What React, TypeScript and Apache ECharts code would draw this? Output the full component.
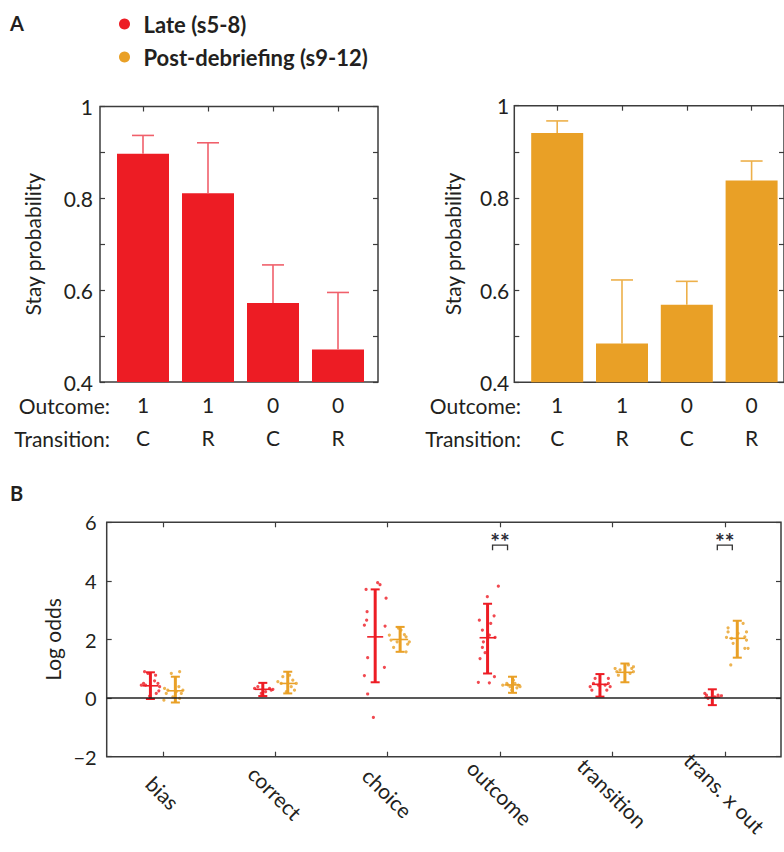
import React, { useEffect, useRef } from 'react';
import * as echarts from 'echarts';

// ---------- Panel A data ----------
const outcomes = ['1', '1', '0', '0'];
const transitions = ['C', 'R', 'C', 'R'];
const rowLabels = ['Outcome:', 'Transition:'];
const lateStay = [0.897, 0.811, 0.572, 0.471];
const lateStayUpper = [0.937, 0.921, 0.655, 0.595];
const postStay = [0.941, 0.484, 0.568, 0.838];
const postStayUpper = [0.967, 0.622, 0.619, 0.88];
const stayTickLabels = [0.4, 0.6, 0.8, 1];

// ---------- Panel B data ----------
const regressors = ['bias', 'correct', 'choice', 'outcome', 'transition', 'trans. x out'];
const lateMean = [0.42, 0.3, 2.09, 2.06, 0.47, 0.03];
const lateLow = [-0.03, 0.07, 0.54, 0.84, 0.05, -0.24];
const lateHigh = [0.88, 0.52, 3.71, 3.22, 0.82, 0.3];
const postMean = [0.25, 0.5, 2.0, 0.45, 0.88, 2.04];
const postLow = [-0.15, 0.16, 1.58, 0.18, 0.54, 1.38];
const postHigh = [0.73, 0.9, 2.43, 0.73, 1.18, 2.64];
const sigRegressors = ['outcome', 'trans. x out'];
const sigLabel = '**';

// individual subjects: [x (category index + jitter), log odds]
const latePoints = [
  [-0.163, 0.9], [-0.133, 0.84], [-0.065, 0.78], [-0.192, 0.44], [-0.154, 0.44], [-0.074, 0.59],
  [-0.044, 0.5], [-0.029, 0.39], [-0.036, 0.25], [-0.059, 0.16], [-0.118, 0.07], [-0.172, 0.5],
  [0.816, 0.33], [0.845, 0.39], [0.949, 0.33], [0.964, 0.27], [0.979, 0.3], [0.914, 0.22], [0.875, 0.16],
  [1.911, 3.94], [1.932, 3.87], [1.808, 3.71], [1.986, 3.41], [1.817, 2.95], [1.813, 2.66], [1.793, 2.49],
  [1.977, 2.46], [1.822, 1.38], [1.971, 1.05], [1.793, 0.77], [1.822, 0.14], [1.873, -0.66],
  [2.985, 3.82], [2.887, 3.46], [2.816, 2.66], [2.947, 2.81], [2.917, 2.55], [2.843, 2.32], [2.905, 2.15],
  [2.956, 2.07], [2.852, 1.92], [2.843, 1.73], [2.867, 1.55], [2.822, 1.35], [2.95, 0.73], [2.807, 0.54], [2.905, 0.52],
  [3.802, 0.39], [3.831, 0.5], [3.817, 0.27], [3.875, 0.44], [3.935, 0.44], [3.964, 0.5], [3.98, 0.39],
  [3.95, 0.27], [3.846, 0.67], [3.964, 0.67],
  [4.837, 0.1], [4.94, 0.1], [4.97, 0.08], [4.851, -0.01], [4.911, 0.04], [4.822, 0.16],
];
const postPoints = [
  [0.075, 0.84], [0.149, 0.9], [0.015, 0.33], [0.044, 0.27], [0.142, 0.39], [0.178, 0.27], [0.164, 0.16],
  [0.119, 0.22], [0.089, 0.04], [0.149, -0.01], [0.03, 0.16], [0.009, -0.07],
  [1.023, 0.56], [1.053, 0.5], [1.156, 0.61], [1.187, 0.5], [1.171, 0.27], [1.067, 0.73], [1.142, 0.39],
  [1.127, 0.78], [1.098, 0.22],
  [2.015, 2.15], [2.03, 1.98], [2.149, 2.17], [2.164, 2.09], [2.193, 1.92], [2.178, 1.84], [2.053, 1.73],
  [2.164, 1.58], [2.084, 1.92], [2.119, 2.32], [2.095, 2.39],
  [3.024, 0.44], [3.06, 0.5], [3.163, 0.44], [3.178, 0.39], [3.089, 0.39], [3.133, 0.5], [3.119, 0.61],
  [3.104, 0.27], [3.07, 0.45], [3.15, 0.35],
  [4.024, 1.01], [4.039, 0.9], [4.068, 0.96], [4.172, 1.01], [4.187, 0.9], [4.157, 0.84], [4.187, 1.07],
  [4.053, 0.78], [4.142, 1.13],
  [5.029, 2.4], [5.163, 2.55], [5.029, 2.26], [5.118, 2.21], [5.193, 2.26], [5.015, 2.07], [5.06, 2.04],
  [5.178, 2.09], [5.193, 1.98], [5.074, 1.87], [5.178, 1.7], [5.207, 1.7], [5.053, 1.13],
];

const LATE_NAME = 'Late (s5-8)';
const POST_NAME = 'Post-debriefing (s9-12)';

const RED = '#ED1C24';
const ORANGE = '#E9A026';
const RED_ERR = '#F0606B';
const ORANGE_ERR = '#EDB04A';
const TEXT = '#231F20';
const FRAME = '#3c3c3c';
const FONT = 'Lato, "Noto Sans", sans-serif';
const GROUP_OFF = 0.111;

function barErrRender(color: string) {
  return (params: any, api: any) => {
    const i = api.value(0);
    const b = api.coord([i, api.value(1)]);
    const t = api.coord([i, api.value(2)]);
    const st = { stroke: color, lineWidth: 1.6 };
    return {
      type: 'group',
      children: [
        { type: 'line', shape: { x1: b[0], y1: b[1], x2: t[0], y2: t[1] }, style: st },
        { type: 'line', shape: { x1: t[0] - 11, y1: t[1], x2: t[0] + 11, y2: t[1] }, style: st },
      ],
    };
  };
}

function dotErrRender(color: string) {
  return (params: any, api: any) => {
    const x = api.value(0);
    const lo = api.coord([x, api.value(1)]);
    const hi = api.coord([x, api.value(2)]);
    const m = api.coord([x, api.value(3)]);
    return {
      type: 'group',
      children: [
        { type: 'line', shape: { x1: lo[0], y1: lo[1], x2: hi[0], y2: hi[1] }, style: { stroke: color, lineWidth: 3 } },
        { type: 'line', shape: { x1: hi[0] - 4.5, y1: hi[1], x2: hi[0] + 4.5, y2: hi[1] }, style: { stroke: color, lineWidth: 2 } },
        { type: 'line', shape: { x1: lo[0] - 4.5, y1: lo[1], x2: lo[0] + 4.5, y2: lo[1] }, style: { stroke: color, lineWidth: 2 } },
        { type: 'line', shape: { x1: m[0] - 8, y1: m[1], x2: m[0] + 8, y2: m[1] }, style: { stroke: color, lineWidth: 1.6 } },
      ],
    };
  };
}

function sigRender(params: any, api: any) {
  const i = api.value(0);
  const base = api.coord([i, api.value(1)]);
  const top = base[1] - 5;
  return {
    type: 'group',
    children: [
      {
        type: 'polyline',
        shape: { points: [[base[0] - 7.5, base[1]], [base[0] - 7.5, top], [base[0] + 7.5, top], [base[0] + 7.5, base[1]]] },
        style: { stroke: '#333', lineWidth: 1.3, fill: 'none' },
      },
      {
        type: 'text',
        x: base[0],
        y: top - 4,
        style: { text: sigLabel, align: 'center', verticalAlign: 'middle', fontSize: 23, fontFamily: FONT, fontWeight: 'bold', fill: '#2a2a35' },
      },
    ],
  };
}

function stayLabel(v: number) {
  const r = Math.round(v * 10) / 10;
  return stayTickLabels.some((t) => Math.abs(t - r) < 1e-6) && Math.abs(v - r) < 1e-6 ? String(r) : '';
}

export default function App() {
  const ref = useRef<HTMLDivElement>(null);
  useEffect(() => {
    document.body.style.margin = '0';
    if (!ref.current) return;
    const chart = echarts.init(ref.current, null, { renderer: 'svg' });
    const catsA = outcomes.map((o, i) => o + '\n' + transitions[i]);

    const boxGrid = (left: number, top: number, height: number) => ({
      left, top, width: 278, height, show: true, borderColor: FRAME, borderWidth: 1.5, backgroundColor: 'transparent',
    });
    const tickStyle = { show: true, inside: true, length: 5, lineStyle: { color: FRAME, width: 1.2 } };
    const noLine = { show: false, onZero: false };

    const aCatAxes = (gridIndex: number) => [
      {
        gridIndex, type: 'category', data: catsA, position: 'bottom',
        axisLine: noLine, axisTick: { ...tickStyle, alignWithLabel: true },
        axisLabel: { fontSize: 21, fontFamily: FONT, color: TEXT, lineHeight: 33, margin: 6 },
      },
      {
        gridIndex, type: 'category', data: catsA, position: 'top',
        axisLine: noLine, axisTick: { ...tickStyle, alignWithLabel: true }, axisLabel: { show: false },
      },
    ];
    const aStayAxes = (gridIndex: number, nameGap: number, margin: number) => [
      {
        gridIndex, type: 'value', min: 0.4, max: 1, interval: 0.1, position: 'left',
        name: 'Stay probability', nameLocation: 'middle', nameGap,
        nameTextStyle: { fontSize: 21, fontFamily: FONT, color: TEXT },
        axisLine: noLine, axisTick: tickStyle, splitLine: { show: false },
        axisLabel: { fontSize: 21, fontFamily: FONT, color: TEXT, margin, formatter: stayLabel },
      },
      {
        gridIndex, type: 'value', min: 0.4, max: 1, interval: 0.1, position: 'right',
        axisLine: noLine, axisTick: tickStyle, splitLine: { show: false }, axisLabel: { show: false },
      },
    ];

    const option: any = {
      animation: false,
      textStyle: { fontFamily: FONT },
      legend: {
        orient: 'vertical', left: 114, top: 8, itemWidth: 28, itemHeight: 11, itemGap: 11,
        selectedMode: false, icon: 'circle',
        textStyle: { fontSize: 22, fontWeight: 'bold', fontFamily: FONT, color: TEXT, lineHeight: 22 },
        data: [
          { name: LATE_NAME, itemStyle: { color: RED } },
          { name: POST_NAME, itemStyle: { color: ORANGE } },
        ],
      },
      grid: [
        boxGrid(100, 106.5, 275.5),
        { left: 110.5, top: 106.5, width: 260, height: 275.5 },
        boxGrid(514.3, 105.7, 276.6),
        { left: 524.8, top: 105.7, width: 260, height: 276.6 },
        { left: 106.7, top: 522.3, width: 674.3, height: 234.4, show: true, borderColor: FRAME, borderWidth: 1.5, backgroundColor: 'transparent' },
      ],
      xAxis: [
        { gridIndex: 0, type: 'value', show: false, min: 0, max: 1, axisLine: noLine },
        ...aCatAxes(1),
        { gridIndex: 2, type: 'value', show: false, min: 0, max: 1, axisLine: noLine },
        ...aCatAxes(3),
        {
          gridIndex: 4, type: 'category', data: regressors, position: 'bottom',
          axisLine: noLine, axisTick: { ...tickStyle, alignWithLabel: true },
          axisLabel: { fontSize: 21, fontFamily: FONT, color: TEXT, rotate: -45, align: 'center', verticalAlign: 'middle', margin: 36 },
        },
        {
          gridIndex: 4, type: 'category', data: regressors, position: 'top',
          axisLine: noLine, axisTick: { ...tickStyle, alignWithLabel: true }, axisLabel: { show: false },
        },
        { gridIndex: 4, type: 'value', min: -0.5, max: 5.5, show: false, axisLine: noLine },
      ],
      yAxis: [
        ...aStayAxes(0, 57, 7),
        { gridIndex: 1, type: 'value', min: 0.4, max: 1, show: false, axisLine: noLine },
        ...aStayAxes(2, 51, 5),
        { gridIndex: 3, type: 'value', min: 0.4, max: 1, show: false, axisLine: noLine },
        {
          gridIndex: 4, type: 'value', min: -2, max: 6, interval: 2, position: 'left',
          name: 'Log odds', nameLocation: 'middle', nameGap: 42,
          nameTextStyle: { fontSize: 21, fontFamily: FONT, color: TEXT },
          axisLine: noLine, axisTick: tickStyle, splitLine: { show: false },
          axisLabel: { fontSize: 20, fontFamily: FONT, color: TEXT, margin: 10, formatter: (v: number) => String(v).replace('-', '\u2212') },
        },
        {
          gridIndex: 4, type: 'value', min: -2, max: 6, interval: 2, position: 'right',
          axisLine: noLine, axisTick: tickStyle, splitLine: { show: false }, axisLabel: { show: false },
        },
      ],
      graphic: [
        { type: 'text', x: 10, y: 23, style: { text: 'A', fontSize: 20, fontWeight: 'bold', fontFamily: FONT, fill: TEXT, verticalAlign: 'middle' } },
        { type: 'text', x: 10, y: 493, style: { text: 'B', fontSize: 20, fontWeight: 'bold', fontFamily: FONT, fill: TEXT, verticalAlign: 'middle' } },
        ...rowLabels.map((t, k) => ({ type: 'text', x: 110, y: 405 + k * 33, style: { text: t, align: 'right', verticalAlign: 'middle', fontSize: 21, fontFamily: FONT, fill: TEXT } })),
        ...rowLabels.map((t, k) => ({ type: 'text', x: 521, y: 405 + k * 33, style: { text: t, align: 'right', verticalAlign: 'middle', fontSize: 21, fontFamily: FONT, fill: TEXT } })),
      ],
      series: [
        { name: LATE_NAME, type: 'bar', xAxisIndex: 1, yAxisIndex: 2, data: lateStay, barWidth: 52, itemStyle: { color: RED } },
        {
          type: 'custom', xAxisIndex: 1, yAxisIndex: 2, renderItem: barErrRender(RED_ERR), z: 3,
          data: lateStay.map((v, i) => [i, v, lateStayUpper[i]]),
        },
        { name: POST_NAME, type: 'bar', xAxisIndex: 4, yAxisIndex: 5, data: postStay, barWidth: 52, itemStyle: { color: ORANGE } },
        {
          type: 'custom', xAxisIndex: 4, yAxisIndex: 5, renderItem: barErrRender(ORANGE_ERR), z: 3,
          data: postStay.map((v, i) => [i, v, postStayUpper[i]]),
        },
        {
          name: LATE_NAME, type: 'scatter', xAxisIndex: 8, yAxisIndex: 6, data: latePoints, symbolSize: 3.2,
          itemStyle: { color: RED }, silent: true,
          markLine: {
            silent: true, symbol: 'none', label: { show: false },
            lineStyle: { color: '#222', width: 1.6, type: 'solid' },
            data: [{ yAxis: 0 }],
          },
        },
        { name: POST_NAME, type: 'scatter', xAxisIndex: 8, yAxisIndex: 6, data: postPoints, symbolSize: 3.2, itemStyle: { color: ORANGE }, silent: true },
        {
          type: 'custom', xAxisIndex: 8, yAxisIndex: 6, renderItem: dotErrRender(RED), z: 4,
          data: regressors.map((r, i) => [i - GROUP_OFF, lateLow[i], lateHigh[i], lateMean[i]]),
        },
        {
          type: 'custom', xAxisIndex: 8, yAxisIndex: 6, renderItem: dotErrRender(ORANGE), z: 4,
          data: regressors.map((r, i) => [i + GROUP_OFF, postLow[i], postHigh[i], postMean[i]]),
        },
        {
          type: 'custom', xAxisIndex: 6, yAxisIndex: 6, renderItem: sigRender, z: 4,
          data: sigRegressors.map((r) => [regressors.indexOf(r), 5.05]),
        },
      ],
    };
    chart.setOption(option);
    return () => chart.dispose();
  }, []);
  return <div ref={ref} style={{ width: 784, height: 852 }} />;
}
